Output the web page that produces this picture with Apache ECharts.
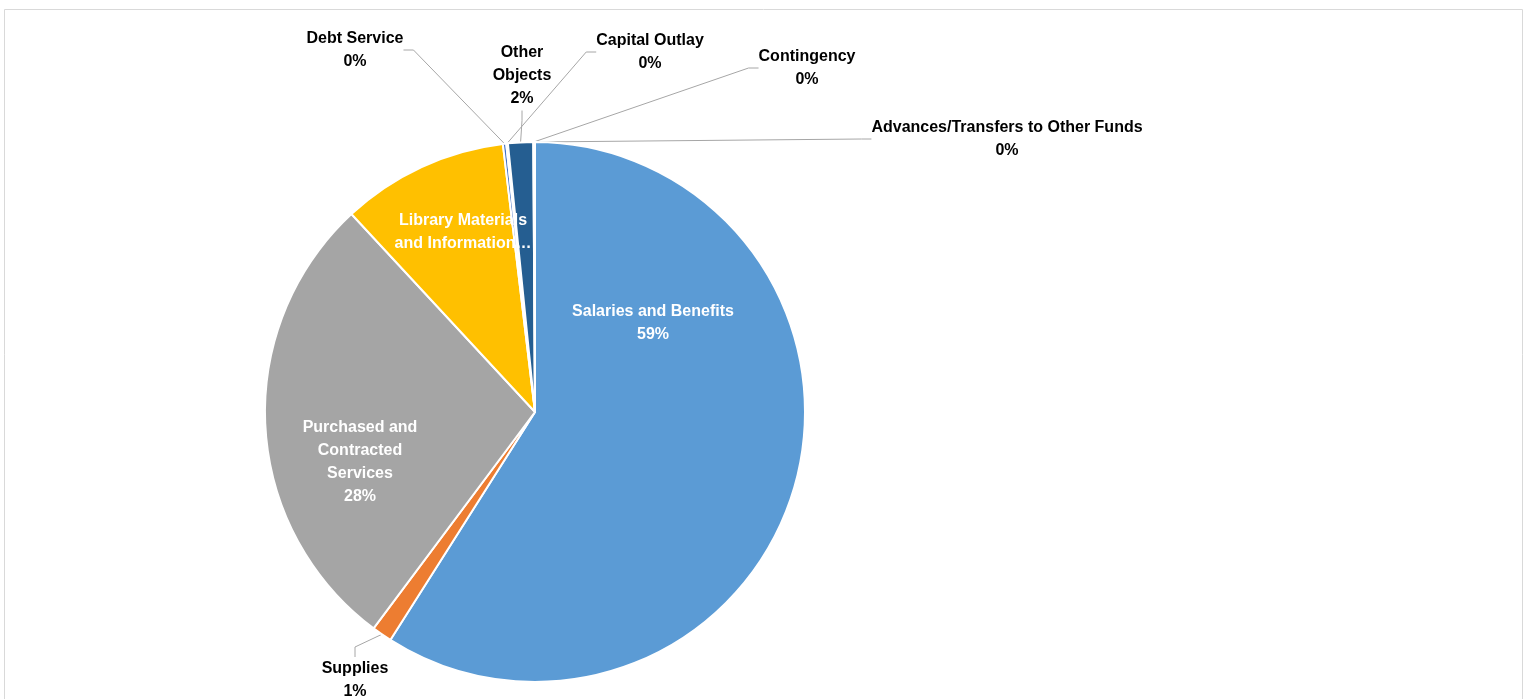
<!DOCTYPE html>
<html>
<head>
<meta charset="utf-8">
<script src="https://cdn.jsdelivr.net/npm/echarts@6/dist/echarts.min.js"></script>
<style>
html,body{margin:0;padding:0;background:#fff;}
#chart{width:1529px;height:699px;}
</style>
</head>
<body>
<div id="chart"></div>
<script>
var categories = ["Salaries and Benefits", "Supplies", "Purchased and Contracted Services", "Library Materials and Information Resources", "Debt Service", "Capital Outlay", "Other Objects", "Contingency", "Advances/Transfers to Other Funds"];
var shares = [59.0, 1.2, 27.9, 10.0, 0.2, 0.1, 1.5, 0.05, 0.05];
var labelNames = ["Salaries and Benefits", "Supplies", "Purchased and\nContracted\nServices", "Library Materials\nand Information…", "Debt Service", "Capital Outlay", "Other\nObjects", "Contingency", "Advances/Transfers to Other Funds"];
var showPercent = [true, true, true, false, true, true, true, true, true];
var colors = ["#5B9BD5", "#ED7D31", "#A5A5A5", "#FFC000", "#4472C4", "#70AD47", "#255E91", "#9E480E", "#636363"];
var insideLabel = [true, false, true, true, false, false, false, false, false];
// label anchor positions (text block centres)
var labelPos = [[653, 323], [355, 680], [360, 462], [463, 232], [355, 50], [650, 52], [522, 76], [807, 68], [1007, 139]];

var chart = echarts.init(document.getElementById('chart'), null, {renderer: 'canvas'});
var data = categories.map(function (c, i) {
  return {
    name: c,
    value: shares[i],
    itemStyle: {color: colors[i]},
    label: {
      color: insideLabel[i] ? '#ffffff' : '#000000',
      position: insideLabel[i] ? 'inside' : 'outside'
    },
    labelLine: {show: !insideLabel[i]}
  };
});
chart.setOption({
  animation: false,
  graphic: [{
    type: 'rect',
    shape: {x: 4.5, y: 9.5, width: 1518, height: 720},
    style: {fill: 'none', stroke: '#D9D9D9', lineWidth: 1},
    silent: true
  }],
  series: [{
    type: 'pie',
    center: [535, 412],
    radius: [0, 270],
    startAngle: 90,
    clockwise: true,
    avoidLabelOverlap: false,
    emphasis: {disabled: true},
    itemStyle: {borderColor: '#ffffff', borderWidth: 2},
    label: {
      show: true,
      fontFamily: 'Liberation Sans',
      fontWeight: 'bold',
      fontSize: 16,
      lineHeight: 23,
      align: 'center',
      formatter: function (p) {
        var t = labelNames[p.dataIndex];
        if (showPercent[p.dataIndex]) t += '\n' + Math.round(p.percent) + '%';
        return t;
      }
    },
    labelLine: {
      show: true,
      length: 15,
      length2: 10,
      lineStyle: {color: '#A6A6A6', width: 1}
    },
    labelLayout: function (p) {
      var pos = labelPos[p.dataIndex];
      return {x: pos[0], y: pos[1], align: 'center', verticalAlign: 'middle'};
    },
    data: data
  }]
});
</script>
</body>
</html>
